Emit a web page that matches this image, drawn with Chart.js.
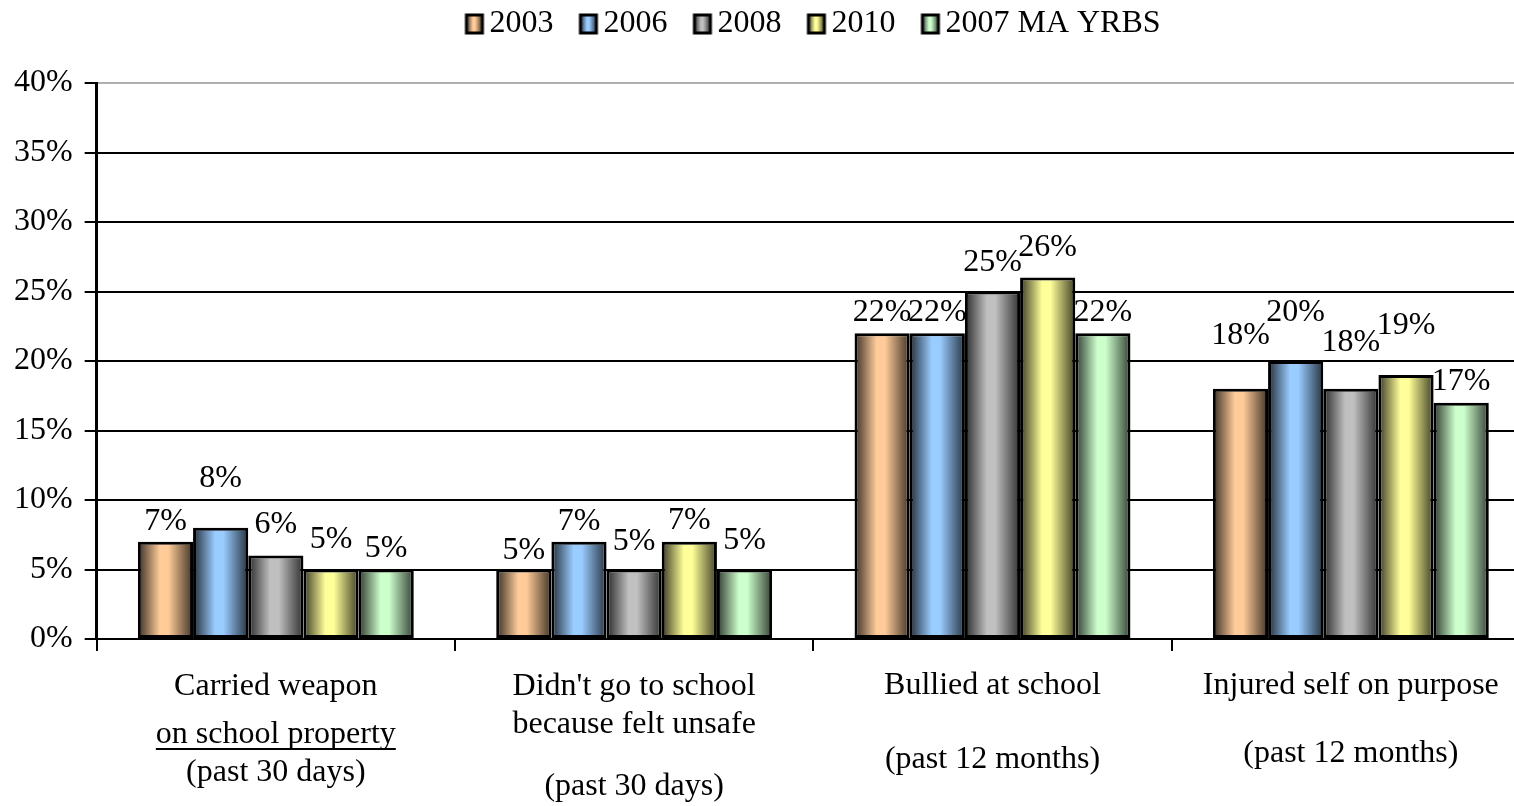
<!DOCTYPE html>
<html>
<head>
<meta charset="utf-8">
<script src="https://cdn.jsdelivr.net/npm/chart.js@4/dist/chart.umd.min.js"></script>
<style>
  html, body { margin: 0; padding: 0; background: #fff; overflow: hidden; }
  #wrap { width: 1530px; height: 806px; }
</style>
</head>
<body>
<div id="wrap"><canvas id="chart"></canvas></div>
<script>
// categories (each entry = lines of the label), series, ticks
const categories = [
    ['Carried weapon', 'on school property', '(past 30 days)'],
    ["Didn't go to school", 'because felt unsafe', '(past 30 days)'],
    ['Bullied at school', '(past 12 months)'],
    ['Injured self on purpose', '(past 12 months)']
];
const seriesNames = ['2003', '2006', '2008', '2010', '2007 MA YRBS'];
const v2003 = [7, 5, 22, 18];
const v2006 = [8, 7, 22, 20];
const v2008 = [6, 5, 25, 18];
const v2010 = [5, 7, 26, 19];
const vMA = [5, 5, 22, 17];
const yTicks = [0, 5, 10, 15, 20, 25, 30, 35, 40];

// layout only: where each label line sits below the axis, label lift above bars
const lineOffsets = [[48, 96, 134], [48, 86, 148], [47, 121], [47, 115]];
const labelLift = [
    [20, 19, 21, 53],
    [49, 20, 21, 48],
    [31, 28, 29, 46],
    [30, 21, 30, 49],
    [21, 29, 21, 21]
];
const colors = ['#FFCC99', '#99CCFF', '#C0C0C0', '#FFFF99', '#CCFFCC'];
const FONT = '"Liberation Serif", "Times New Roman", serif';
const FS = 32;

function shade(hex, f) {
    let r = parseInt(hex.substr(1, 2), 16), g = parseInt(hex.substr(3, 2), 16), b = parseInt(hex.substr(5, 2), 16);
    return 'rgb(' + Math.round(r * f) + ',' + Math.round(g * f) + ',' + Math.round(b * f) + ')';
}

function cylinder(ctx, x0, x1, hex) {
    let g = ctx.createLinearGradient(x0, 0, x1, 0);
    g.addColorStop(0, shade(hex, 0.22));
    g.addColorStop(0.4, hex);
    g.addColorStop(0.55, hex);
    g.addColorStop(1, shade(hex, 0.25));
    return g;
}

// legend swatch: image is wider than the box so the box sits close to its text
function legendBox(hex) {
    let c = document.createElement('canvas');
    c.width = 44; c.height = 22;
    let x = c.getContext('2d');
    x.fillStyle = cylinder(x, 25, 41, hex);
    x.fillRect(25, 2, 16, 18);
    x.lineWidth = 3;
    x.strokeStyle = '#000';
    x.strokeRect(25, 2, 16, 18);
    return c;
}

// extra room under the legend, and legend nudged right like the original
const legendGap = {
    id: 'legendGap',
    beforeUpdate(chart) {
        let lg = chart.legend;
        if (lg && !lg._gapPatched) {
            let fit = lg.fit;
            lg.fit = function () { fit.call(this); this.height += 35; };
            let draw = lg.draw;
            lg.draw = function () {
                this.ctx.save();
                this.ctx.translate(41, 2);
                draw.call(this);
                this.ctx.restore();
            };
            lg._gapPatched = true;
        }
    }
};

const gradientBars = {
    id: 'gradientBars',
    beforeDatasetsDraw(chart) {
        let ctx = chart.ctx;
        chart.data.datasets.forEach((ds, i) => {
            chart.getDatasetMeta(i).data.forEach(el => {
                el.options = Object.assign({}, el.options, {
                    backgroundColor: cylinder(ctx, el.x - el.width / 2, el.x + el.width / 2, colors[i])
                });
            });
        });
    }
};

const valueLabels = {
    id: 'valueLabels',
    afterDatasetsDraw(chart) {
        let ctx = chart.ctx;
        ctx.save();
        ctx.font = FS + 'px ' + FONT;
        ctx.fillStyle = '#000';
        ctx.textAlign = 'center';
        ctx.textBaseline = 'middle';
        chart.data.datasets.forEach((ds, i) => {
            chart.getDatasetMeta(i).data.forEach((el, j) => {
                ctx.fillText(ds.data[j] + '%', el.x, el.y - labelLift[i][j]);
            });
        });
        ctx.restore();
    }
};

const categoryLabels = {
    id: 'categoryLabels',
    afterDraw(chart) {
        let ctx = chart.ctx;
        let xs = chart.scales.x;
        let base = chart.chartArea.bottom;
        ctx.save();
        ctx.font = FS + 'px ' + FONT;
        ctx.fillStyle = '#000';
        ctx.textAlign = 'center';
        ctx.textBaseline = 'middle';
        categories.forEach((lines, i) => {
            let cx = xs.getPixelForValue(i);
            lines.forEach((t, k) => {
                let y = base + lineOffsets[i][k];
                ctx.fillText(t, cx, y);
                if (i === 0 && k === 1) {
                    let w = ctx.measureText(t).width;
                    ctx.fillRect(cx - w / 2, y + 13, w, 2);
                }
            });
        });
        ctx.restore();
    }
};

const seriesValues = [v2003, v2006, v2008, v2010, vMA];

new Chart(document.getElementById('chart'), {
    type: 'bar',
    data: {
        labels: categories.map(c => c.join(' ')),
        datasets: seriesNames.map((name, i) => ({
            label: name,
            data: seriesValues[i],
            backgroundColor: () => colors[i],
            borderColor: '#000',
            borderWidth: 3,
            borderSkipped: false,
            pointStyle: legendBox(colors[i]),
            categoryPercentage: 0.77,
            barPercentage: 1.0
        }))
    },
    options: {
        responsive: true,
        maintainAspectRatio: false,
        animation: false,
        layout: { padding: { left: 2, right: 0, top: -8, bottom: 155 } },
        plugins: {
            legend: {
                display: true,
                position: 'top',
                labels: {
                    usePointStyle: true,
                    pointStyleWidth: 20,
                    color: '#000',
                    font: { family: FONT, size: FS },
                    padding: 14,
                    boxWidth: 20,
                    boxHeight: 22
                }
            },
            tooltip: { enabled: false }
        },
        scales: {
            x: {
                offset: true,
                grid: {
                    offset: true,
                    drawOnChartArea: false,
                    drawTicks: true,
                    tickLength: 12,
                    color: '#000',
                    lineWidth: 2
                },
                border: { color: '#000', width: 2 },
                ticks: { display: false }
            },
            y: {
                min: 0,
                max: 40,
                afterBuildTicks: axis => { axis.ticks = yTicks.map(v => ({ value: v })); },
                grid: {
                    color: c => c.tick && c.tick.value === 40 ? '#b0b0b0' : '#000',
                    lineWidth: 2,
                    tickLength: 12,
                    tickColor: '#000'
                },
                border: { color: '#000', width: 3 },
                ticks: {
                    color: '#000',
                    padding: 12,
                    font: { family: FONT, size: FS },
                    callback: v => v + '%'
                }
            }
        }
    },
    plugins: [legendGap, gradientBars, valueLabels, categoryLabels]
});
</script>
</body>
</html>
